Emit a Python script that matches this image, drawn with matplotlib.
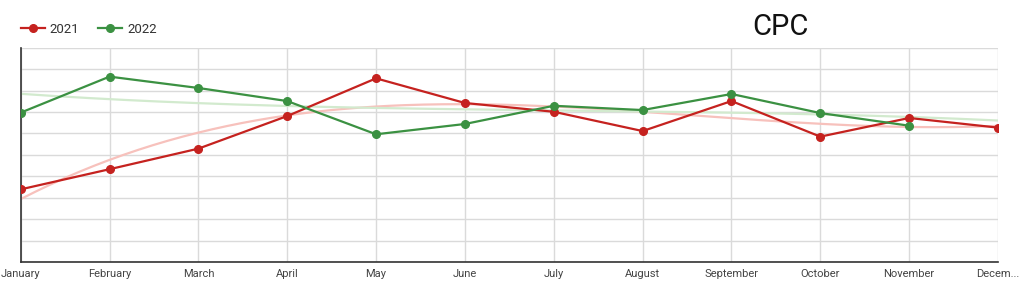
import numpy as np
import matplotlib
matplotlib.use("Agg")
import matplotlib.pyplot as plt

plt.rcParams['font.family'] = ['Roboto', 'DejaVu Sans']

months = ["January", "February", "March", "April", "May", "June", "July",
          "August", "September", "October", "November", "Decem..."]
cpc_2021 = [3.39, 4.33, 5.29, 6.81, 8.57, 7.42, 7.01, 6.11, 7.51, 5.85, 6.72, 6.27]
cpc_2022 = [6.97, 8.65, 8.12, 7.51, 5.96, 6.44, 7.29, 7.09, 7.84, 6.95, 6.36]

red = "#c5221f"
green = "#3b9142"
red_trend = "#f7c1bc"
green_trend = "#d2eace"

fig = plt.figure(figsize=(10.24, 2.84), dpi=100)
ax = fig.add_axes([20.7/1024, 22/284, (998-20.7)/1024, (262-47.7)/284])

x21 = np.arange(len(cpc_2021))
x22 = np.arange(len(cpc_2022))
xall = np.linspace(0, len(months)-1, 200)

# trendlines fitted from the data
p21 = np.polyfit(x21, cpc_2021, 3)
ax.plot(xall, np.polyval(p21, xall), color=red_trend, lw=1.6, zorder=2)
p22 = np.polyfit(x22, cpc_2022, 3)
ax.plot(xall, np.polyval(p22, xall), color=green_trend, lw=1.6, zorder=2)

ax.plot(x21, cpc_2021, color=red, lw=1.6, marker='o', ms=5.5, zorder=4, label="2021")
ax.plot(x22, cpc_2022, color=green, lw=1.6, marker='o', ms=5.5, zorder=4, label="2022")

ax.set_xlim(0, len(months)-1)
ax.set_ylim(0, 10)
ax.set_yticks(np.arange(0, 11, 1))
ax.set_yticklabels([])
ax.tick_params(axis='y', length=0)
ax.set_xticks(np.arange(len(months)))
ax.set_xticklabels(months, fontsize=8, color="#444444")
ax.tick_params(axis='x', length=0, pad=5)
ax.grid(True, color="#dadada", lw=1)
ax.set_axisbelow(True)
for s in ["top", "right"]:
    ax.spines[s].set_visible(False)
ax.spines["left"].set_color("#333333")
ax.spines["bottom"].set_color("#333333")
ax.spines["left"].set_linewidth(1.2)
ax.spines["bottom"].set_linewidth(1.2)

leg = fig.legend(loc="upper left", bbox_to_anchor=(9/1024, 1 - 11/284), ncol=2,
                 frameon=False, fontsize=9.5, handlelength=1.8, columnspacing=1.4,
                 handletextpad=0.4, labelcolor="#333333")

fig.text(780/1024, 1 - 27/284, "CPC", fontsize=21, ha="center", va="center", color="#111111")

fig.savefig("out.png", dpi=100)
